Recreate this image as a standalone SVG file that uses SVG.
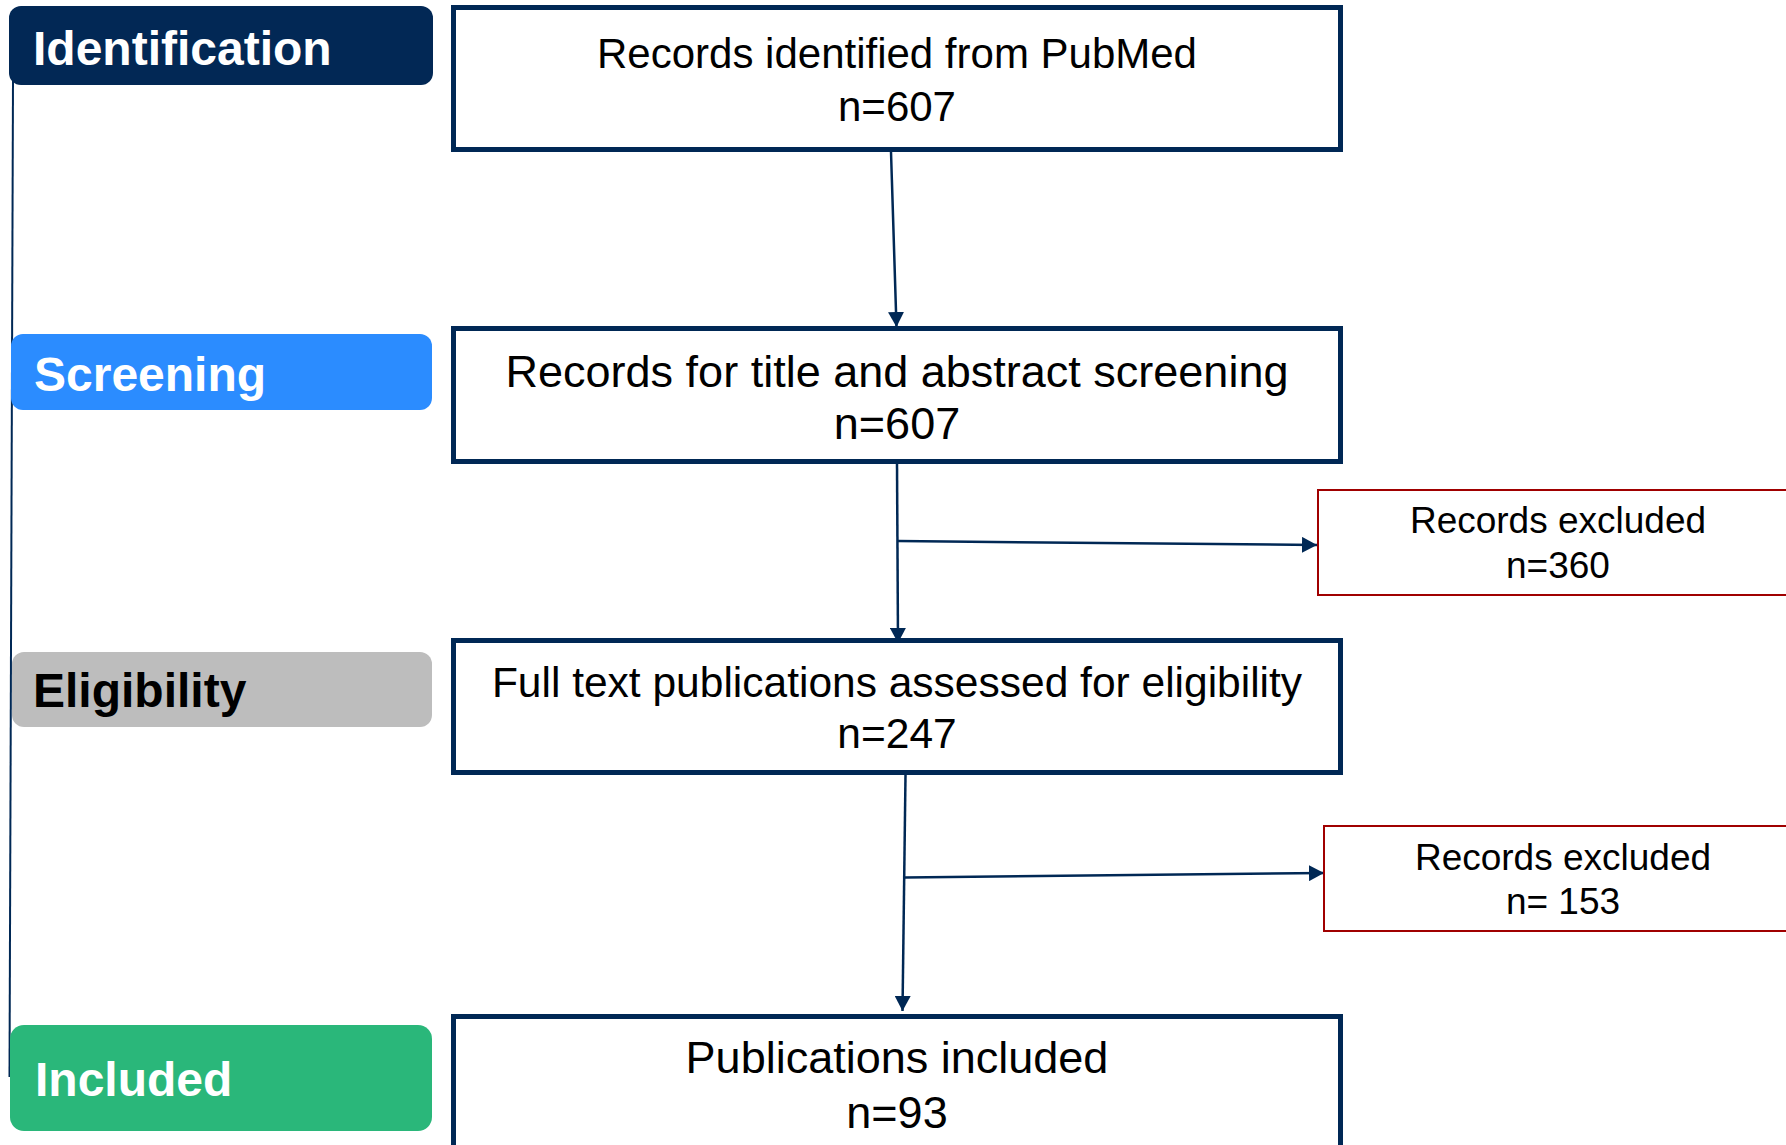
<svg xmlns="http://www.w3.org/2000/svg" width="1786" height="1145" viewBox="0 0 1786 1145">
<defs>
<style>
.stage{font-family:"Liberation Sans",Arial,sans-serif;font-weight:bold;font-size:48px}
.box{fill:#fff;stroke:#002855;stroke-width:5}
.exc{fill:#fff;stroke:#a00000;stroke-width:2}
.t{font-family:"Liberation Sans",Arial,sans-serif;fill:#000;text-anchor:middle}
.con{stroke:#002855;stroke-width:2.5;fill:none}
</style>
<marker id="ah" markerUnits="userSpaceOnUse" markerWidth="15" markerHeight="16" refX="15" refY="8" orient="auto" viewBox="0 0 15 16">
<path d="M0,0 L15,8 L0,16 z" fill="#002855"/>
</marker>
</defs>
<rect width="1786" height="1145" fill="#fff"/>
<g id="timeline">
<line x1="13" y1="80" x2="9.5" y2="1077" stroke="#002855" stroke-width="2"/>
</g>
<g id="stage-identification">
<rect x="9" y="6" width="424" height="79" rx="12" fill="#022855"/>
<text x="33" y="65" class="stage" fill="#fff">Identification</text>
</g>
<g id="stage-screening">
<rect x="11" y="334" width="421" height="76" rx="12" fill="#2b8cff"/>
<text x="34" y="391" class="stage" fill="#fff">Screening</text>
</g>
<g id="stage-eligibility">
<rect x="12" y="652" width="420" height="75" rx="12" fill="#bdbdbd"/>
<text x="33" y="707" class="stage" fill="#000">Eligibility</text>
</g>
<g id="stage-included">
<rect x="10" y="1025" width="422" height="106" rx="14" fill="#2ab77a"/>
<text x="35" y="1096" class="stage" fill="#fff">Included</text>
</g>
<g id="connectors">
<line class="con" x1="891" y1="152" x2="896.5" y2="327" marker-end="url(#ah)"/>
<line class="con" x1="897" y1="463" x2="898" y2="643" marker-end="url(#ah)"/>
<line class="con" x1="898" y1="541" x2="1317" y2="545" marker-end="url(#ah)"/>
<line class="con" x1="905.5" y1="775" x2="902.5" y2="1011" marker-end="url(#ah)"/>
<line class="con" x1="905" y1="877.5" x2="1324" y2="873" marker-end="url(#ah)"/>
</g>
<g id="node-identified">
<rect class="box" x="453.5" y="7.5" width="887" height="142"/>
<text class="t" x="897" y="68" font-size="42">Records identified from PubMed</text>
<text class="t" x="897" y="121" font-size="42">n=607</text>
</g>
<g id="node-screening">
<rect class="box" x="453.5" y="328.5" width="887" height="133"/>
<text class="t" x="897" y="387" font-size="45">Records for title and abstract screening</text>
<text class="t" x="897" y="439" font-size="45">n=607</text>
</g>
<g id="node-excluded-1">
<rect class="exc" x="1318" y="490" width="500" height="105"/>
<text class="t" x="1558" y="533" font-size="37">Records excluded</text>
<text class="t" x="1558" y="578" font-size="37">n=360</text>
</g>
<g id="node-eligibility">
<rect class="box" x="453.5" y="640.5" width="887" height="132"/>
<text class="t" x="897" y="697" font-size="42.5">Full text publications assessed for eligibility</text>
<text class="t" x="897" y="748" font-size="42.5">n=247</text>
</g>
<g id="node-excluded-2">
<rect class="exc" x="1324" y="826" width="500" height="105"/>
<text class="t" x="1563" y="870" font-size="37">Records excluded</text>
<text class="t" x="1563" y="914" font-size="37">n= 153</text>
</g>
<g id="node-included">
<rect class="box" x="453.5" y="1016.5" width="887" height="200"/>
<text class="t" x="897" y="1073" font-size="45">Publications included</text>
<text class="t" x="897" y="1128" font-size="45">n=93</text>
</g>
</svg>
